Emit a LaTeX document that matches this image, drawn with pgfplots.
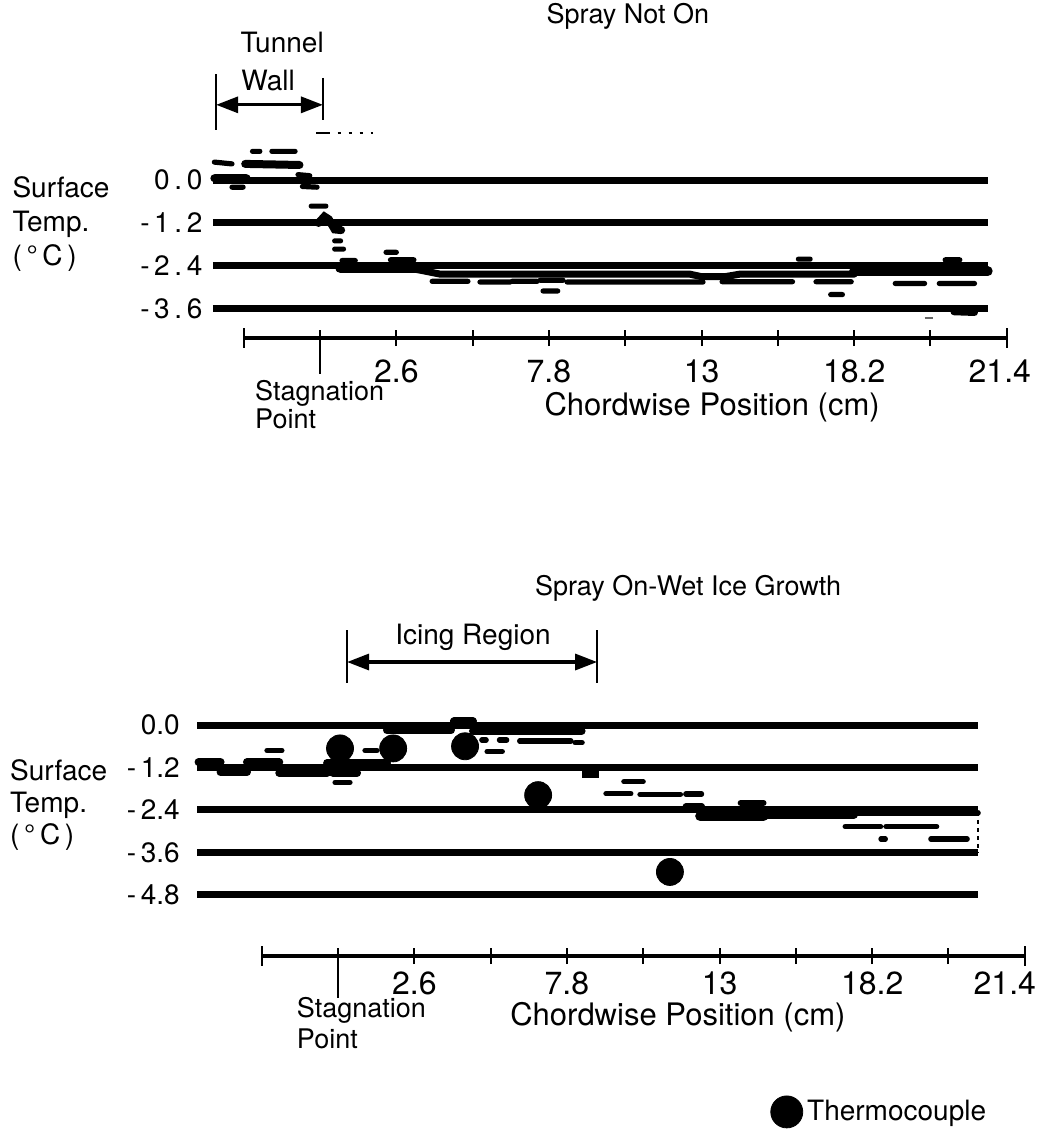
\documentclass[border=0pt]{standalone}
\usepackage{fontspec}
\setmainfont{TeX Gyre Heros}
\usepackage{pgfplots}
\pgfplotsset{compat=1.18}
\usetikzlibrary{arrows.meta}

\newcommand{\sz}[1]{\fontsize{#1}{#1}\selectfont}

\pgfplotsset{
  panel/.style={scale only axis, clip=false, anchor=south west,
    axis line style={draw=none}, major tick length=0pt, xtick=\empty,
    yticklabel style={font=\sz{14}, inner sep=0pt, xshift=-5pt},
    unbounded coords=jump},
  ref/.style={black, line width=3.5pt, forget plot},
  blob/.style={black, line width=4pt, line cap=round, forget plot},
  dash/.style={black, line width=2.6pt, line cap=round, forget plot},
  ruler/.style={scale only axis, clip=false, anchor=south west, height=10pt,
    width=381.55pt, ymin=0, ymax=1, xmin=-2.6, xmax=23.4,
    axis x line=bottom, axis y line=none,
    axis line style={-, line width=1.8pt},
    xtick={-2.6,0,2.6,5.2,7.8,10.4,13,15.6,18.2,20.8,23.4},
    xtick align=center, major tick length=8pt,
    major tick style={line width=1pt, black},
    xticklabel style={font=\sz{16}, anchor=base, inner sep=1pt}},
}
\tikzset{bar/.style={line width=1.2pt},
  twoway/.style={line width=1.6pt,
    {Triangle[length=11pt,width=8pt]}-{Triangle[length=11pt,width=8pt]}}}

\begin{document}
\begin{tikzpicture}
\useasboundingbox (0,0) rectangle (526pt,-566pt);

% ---------- upper panel: spray not on ----------
\begin{axis}[panel, at={(106.45pt,-161.6pt)}, width=387.4pt, height=89.5pt,
  xmin=-3.65, xmax=22.75, ymin=-4, ymax=1, ytick={0,-1.2,-2.4,-3.6},
  yticklabels={0\,.\,0,-\,1\,.\,2,-\,2\,.\,4,-\,3\,.\,6}]
\addplot[ref] coordinates {(-3.65,0) (22.75,0) (0,nan)
  (-3.65,-1.2) (22.75,-1.2) (0,nan) (-3.65,-2.4) (22.75,-2.4) (0,nan)
  (-3.65,-3.6) (22.75,-3.6)};
\addplot[blob] coordinates {(-3.6,0.05) (-2.5,0.05) (0,nan)
  (-2.55,0.45) (-0.7,0.42) (0,nan)
  (-0.05,-1.2) (0.15,-1.02) (0.3,-1.1) (0.5,-1.38) (0.72,-1.4)};
\addplot[blob, line width=5pt] coordinates {(0.7,-2.47) (3.3,-2.47) (0,nan)
  (18.2,-2.55) (22.75,-2.55)};
\addplot[blob, line width=3.5pt] coordinates {(3.3,-2.5) (4.1,-2.63) (12.6,-2.63)
  (13.0,-2.7) (13.8,-2.7) (14.3,-2.63) (18.2,-2.63) (0,nan)
  (21.6,-3.68) (22.3,-3.7)};
\addplot[dash] coordinates {(-3.6,0.5) (-3.0,0.45) (0,nan)
  (-3.0,-0.2) (-2.62,-0.2) (0,nan) (-2.3,0.8) (-2.05,0.8) (0,nan)
  (-1.64,0.8) (-0.85,0.8) (0,nan) (-0.75,0.15) (-0.35,0.12) (0,nan)
  (-0.6,-0.18) (-0.1,-0.2) (0,nan) (-0.3,-0.73) (0.2,-0.73) (0,nan)
  (0.5,-1.7) (0.7,-1.7) (0,nan) (0.5,-1.93) (0.8,-1.93) (0,nan)
  (2.25,-2.02) (2.6,-2.02) (0,nan) (0.75,-2.25) (1.2,-2.25) (0,nan)
  (2.4,-2.23) (3.2,-2.23) (0,nan)
  (3.82,-2.83) (5.04,-2.83) (0,nan) (5.45,-2.85) (6.48,-2.85) (0,nan)
  (6.54,-2.83) (7.40,-2.83) (0,nan) (7.50,-2.8) (8.28,-2.8) (0,nan)
  (8.42,-2.85) (13.05,-2.85) (0,nan) (13.7,-2.84) (16.1,-2.84) (0,nan)
  (16.9,-2.84) (18.1,-2.84) (0,nan) (19.6,-2.89) (20.6,-2.89) (0,nan)
  (21.1,-2.89) (22.3,-2.89) (0,nan)
  (7.6,-3.1) (8.1,-3.1) (0,nan) (16.3,-2.21) (16.7,-2.21) (0,nan)
  (17.4,-3.2) (17.8,-3.2) (0,nan) (21.3,-2.23) (21.8,-2.23)};
\addplot[black!60, line width=1pt, forget plot] coordinates {(20.6,-3.85) (20.9,-3.85)};
% tunnel wall bracket
\draw[bar] (axis cs:-3.54,2.96) -- (axis cs:-3.54,1.40);
\draw[bar] (axis cs:0.10,2.85) -- (axis cs:0.10,1.68);
\draw[twoway] (axis cs:-3.54,2.1) -- (axis cs:0.10,2.1);
\draw[line width=0.8pt] (axis cs:-0.12,1.31) -- (axis cs:0.35,1.31);
\draw[line width=0.8pt, dash pattern=on 1.5pt off 4pt] (axis cs:0.6,1.31) -- (axis cs:1.8,1.31);
\node[font=\sz{14}] at (axis cs:-1.29,3.83) {Tunnel};
\node[font=\sz{14}] at (axis cs:-1.77,2.77) {Wall};
\node[font=\sz{13.5}] at (axis cs:10.49,4.58) {Spray Not On};
\node[anchor=west, align=left, inner sep=0pt, font=\fontsize{14}{17}\selectfont]
  at (axis cs:-10.49,-1.23) {Surface\\Temp.\\(\,°\,C\,)};
\end{axis}

\begin{axis}[ruler, at={(121.85pt,-169pt)},
  xticklabels={,,2.6,,7.8,,13,,18.2,,\hspace*{-7pt}21.4},
  xticklabel style={yshift=-18pt}]
\draw[line width=1pt] (axis cs:0,0) ++(0pt,4pt) -- ++(0pt,-22pt);
\draw[line width=1pt] (axis cs:-2.6,0) ++(0pt,5pt) -- ++(0pt,-10pt);
\draw[line width=1pt] (axis cs:23.4,0) ++(0pt,5pt) -- ++(0pt,-10pt);
\node[anchor=west, font=\sz{13.5}] at (axis cs:-2.45,0) [yshift=-27.5pt] {Stagnation};
\node[anchor=west, font=\sz{13.5}] at (axis cs:-2.45,0) [yshift=-40.5pt] {Point};
\node[font=\sz{15.5}] at (axis cs:13.36,0) [yshift=-34.5pt] {Chordwise Position (cm)};
\end{axis}

% ---------- lower panel: spray on, wet ice growth ----------
\begin{axis}[panel, at={(98.55pt,-454.55pt)}, width=390.35pt, height=109.75pt,
  xmin=-4.8, xmax=21.8, ymin=-5.2, ymax=1, ytick={0,-1.2,-2.4,-3.6,-4.8},
  yticklabels={0.0,-\,1.2,-\,2.4,-\,3.6,-\,4.8},
  yticklabel style={xshift=-3.5pt},
  legend style={at={(axis description cs:0.7338,-0.924)}, anchor=west,
    draw=none, fill=none, font=\sz{14}, inner sep=0pt},
  legend image code/.code={\fill (8pt,0pt) circle (8pt);}]
\addplot[ref] coordinates {(-4.8,0) (21.8,0) (0,nan)
  (-4.8,-1.2) (21.8,-1.2) (0,nan) (-4.8,-2.4) (21.8,-2.4) (0,nan)
  (-4.8,-3.6) (21.8,-3.6) (0,nan) (-4.8,-4.8) (21.8,-4.8)};
\addplot[blob] coordinates {(1.67,-0.15) (3.85,-0.15) (0,nan)
  (3.95,0.1) (4.6,0.1) (0,nan) (4.6,-0.17) (8.3,-0.17) (0,nan)
  (-4.75,-1.05) (-4.0,-1.05) (0,nan) (-4.0,-1.33) (-3.1,-1.33) (0,nan)
  (-3.1,-1.05) (-2.0,-1.05) (0,nan) (-2.0,-1.35) (-0.37,-1.35) (0,nan)
  (-0.37,-1.07) (1.67,-1.07) (0,nan) (-0.17,-1.35) (0.65,-1.35) (0,nan)
  (14.5,-2.53) (17.58,-2.53)};
\addplot[blob, line width=7pt, line cap=butt] coordinates {(8.3,-1.3) (8.88,-1.3)};
\addplot[blob, line width=5pt] coordinates {(12.34,-2.57) (14.5,-2.57)};
\addplot[blob, line width=3pt] coordinates {(11.85,-2.3) (12.4,-2.3) (0,nan)
  (13.72,-2.2) (14.5,-2.2) (0,nan) (17.58,-2.48) (21.8,-2.48)};
\addplot[dash] coordinates {(-2.42,-0.72) (-1.91,-0.72) (0,nan)
  (0.92,-0.72) (1.33,-0.72) (0,nan) (4.9,-0.42) (5.05,-0.42) (0,nan)
  (5.5,-0.42) (5.75,-0.42) (0,nan) (5.08,-0.75) (5.6,-0.75) (0,nan)
  (6.19,-0.45) (7.94,-0.45) (0,nan) (8.08,-0.5) (8.32,-0.5) (0,nan)
  (-0.1,-1.62) (0.41,-1.62) (0,nan)
  (9.74,-1.6) (10.4,-1.6) (0,nan) (9.13,-1.94) (9.98,-1.94) (0,nan)
  (10.29,-1.96) (11.67,-1.96) (0,nan) (11.85,-1.95) (12.39,-1.95) (0,nan)
  (17.28,-2.87) (18.49,-2.87) (0,nan) (18.67,-2.87) (20.4,-2.87) (0,nan)
  (18.5,-3.22) (18.65,-3.22) (0,nan) (20.2,-3.22) (21.44,-3.22)};
\addplot[only marks, mark=*, mark size=6.75pt, black] coordinates {
  (0.07,-0.66) (1.88,-0.66) (4.33,-0.6) (6.82,-1.98) (11.31,-4.15)};
\addlegendentry{Thermocouple}
\draw[line width=1pt, dash pattern=on 2pt off 2pt] (axis cs:21.8,-2.45) -- (axis cs:21.8,-3.6);
% icing region bracket
\draw[bar] (axis cs:0.31,2.68) -- (axis cs:0.31,1.19);
\draw[bar] (axis cs:8.83,2.68) -- (axis cs:8.83,1.19);
\draw[twoway] (axis cs:0.31,1.78) -- (axis cs:8.83,1.78);
\node[font=\sz{14}] at (axis cs:4.6,2.49) {Icing Region};
\node[font=\sz{13.5}] at (axis cs:11.93,3.87) {Spray On-Wet Ice Growth};
\node[anchor=west, align=left, inner sep=0pt, font=\fontsize{14}{16}\selectfont]
  at (axis cs:-11.18,-2.26) {Surface\\Temp.\\(\,°\,C\,)};
\end{axis}

\begin{axis}[ruler, at={(130.85pt,-478pt)},
  xticklabels={,,2.6,,7.8,,13,,18.2,,\hspace*{-20pt}21.4},
  xticklabel style={yshift=-15pt}]
\draw[line width=1pt] (axis cs:0,0) ++(0pt,4pt) -- ++(0pt,-25pt);
\draw[line width=1pt] (axis cs:-2.6,0) ++(0pt,5pt) -- ++(0pt,-10pt);
\draw[line width=1pt] (axis cs:23.4,0) ++(0pt,5pt) -- ++(0pt,-10pt);
\node[anchor=west, font=\sz{13.5}] at (axis cs:-1.64,0) [yshift=-27pt] {Stagnation};
\node[anchor=west, font=\sz{13.5}] at (axis cs:-1.64,0) [yshift=-41.5pt] {Point};
\node[font=\sz{15.5}] at (axis cs:11.58,0) [yshift=-30.5pt] {Chordwise Position (cm)};
\end{axis}
\end{tikzpicture}
\end{document}
